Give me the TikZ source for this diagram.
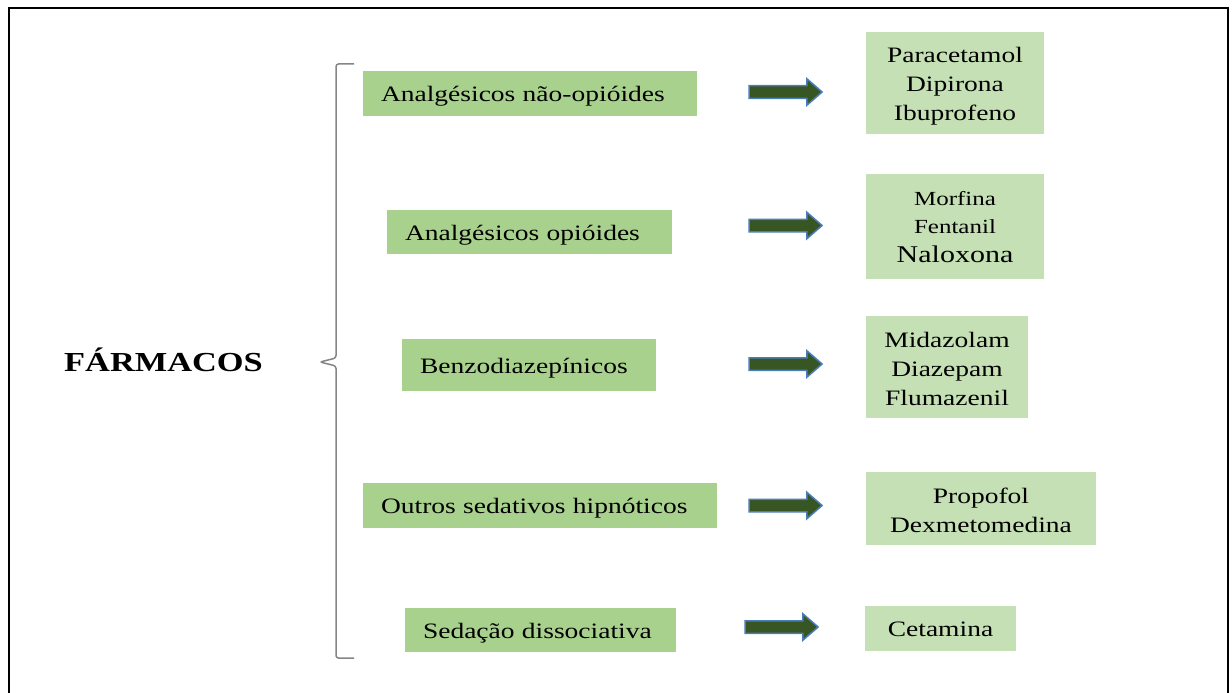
\documentclass[tikz,border=0pt]{standalone}
\usepackage{fontspec}
\setmainfont{Liberation Serif}[FakeStretch=1.25]
\usetikzlibrary{shapes.arrows}
\definecolor{leftgreen}{HTML}{A9D18E}
\definecolor{rightgreen}{HTML}{C5E0B4}
\definecolor{arrgreen}{HTML}{375623}
\definecolor{arrblue}{HTML}{4A7EBB}
\definecolor{bracegray}{HTML}{858585}

\begin{document}
\begin{tikzpicture}[x=1pt, y=-1pt,
        font=\fontsize{22}{29}\selectfont,
        lft/.style={fill=leftgreen, inner xsep=18pt, inner ysep=0pt, align=left, text height=16pt, text depth=0pt},
        rgt/.style={fill=rightgreen, align=center, inner sep=0pt, text depth=5pt},
        fatarr/.style={single arrow, fill=arrgreen, draw=arrblue, line width=1.5pt, inner xsep=0pt, inner ysep=5.5pt,
            single arrow head extend=7pt, single arrow tip angle=82, minimum height=73pt}]

    \useasboundingbox (0,0) rectangle (1232,693);
    \draw[line width=2pt] (9,8) rectangle (1228,710);

    % ---------- title and brace ----------
    \node[anchor=base, font=\fontsize{27.5}{33}\selectfont\bfseries, inner sep=0pt] (farm) at (163.5,371.5) {FÁRMACOS};
    \draw[bracegray, line width=1.5pt, rounded corners=2.5pt]
        (354,64) -- (336,64) -- (336,358) -- (320,362) -- (336,366) -- (336,658) -- (354,658);

    % ---------- drug classes ----------
    \node[lft, text width=298pt, minimum height=45pt] (l1) at (530,93.5) {Analgésicos não-opióides};
    \node[lft, text width=249pt, minimum height=44pt] (l2) at (529.5,232) {Analgésicos opióides};
    \node[lft, text width=218pt, minimum height=52pt] (l3) at (529,365) {Benzodiazepínicos};
    \node[lft, text width=318pt, minimum height=45pt] (l4) at (540,505.5) {Outros sedativos hipnóticos};
    \node[lft, text width=235pt, minimum height=44pt] (l5) at (540.5,630) {Sedação dissociativa};

    % ---------- arrows ----------
    \node[fatarr] (a1) at (782,92) {};
    \node[fatarr] (a2) at (782,225.5) {};
    \node[fatarr] (a3) at (782,364) {};
    \node[fatarr] (a4) at (782,505.5) {};
    \node[fatarr] (a5) at (778,627) {};

    % ---------- drugs ----------
    \node[rgt, minimum width=178pt, minimum height=102pt, text height=79pt] (r1) at (955,83) {Paracetamol\\Dipirona\\Ibuprofeno};
    \node[rgt, minimum width=178pt, minimum height=105pt, text height=76pt, font=\fontsize{20}{28}\selectfont] (r2) at (955,226.5)
        {Morfina\\Fentanil\\[1pt]{\fontsize{24}{30}\selectfont Naloxona}};
    \node[rgt, minimum width=162pt, minimum height=102pt, text height=81pt] (r3) at (947,367) {Midazolam\\Diazepam\\Flumazenil};
    \node[rgt, minimum width=230pt, minimum height=73pt, text height=52pt] (r4) at (981,508.5) {Propofol\\Dexmetomedina};
    \node[rgt, minimum width=151pt, minimum height=45pt, text height=16pt, text depth=0pt] (r5) at (940.5,628.5) {Cetamina};
    \end{tikzpicture}
\end{document}
